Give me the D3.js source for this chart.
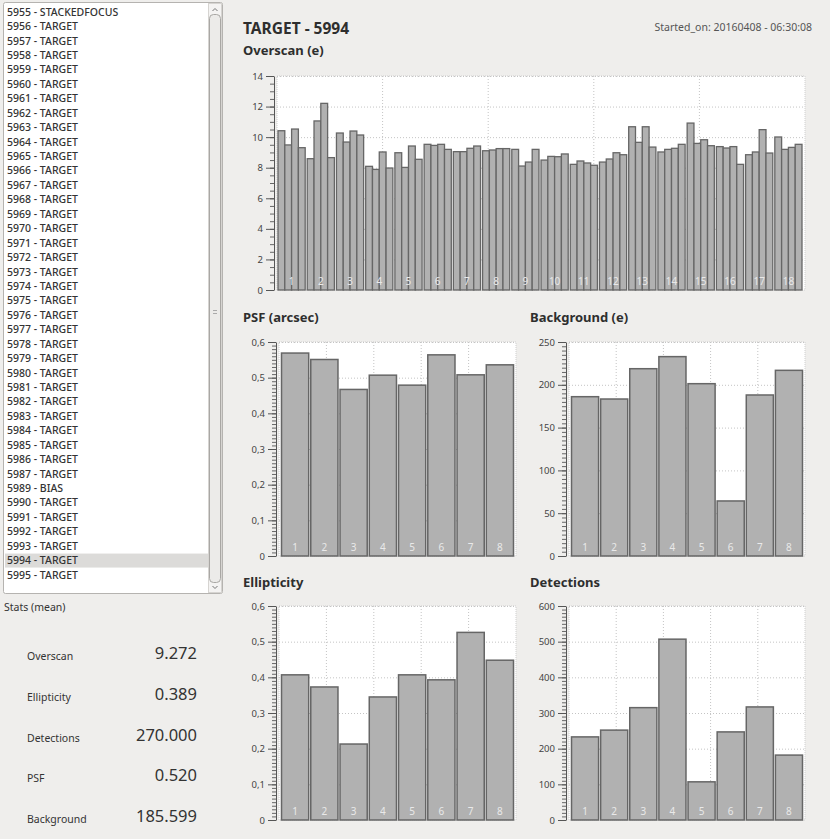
<!DOCTYPE html>
<html>
<head>
<meta charset="utf-8">
<script src="https://cdn.jsdelivr.net/npm/d3@7"></script>
<style>
  body { margin: 0; background: #efeeec; font-family: "Noto Sans", "DejaVu Sans", sans-serif; }
  svg text { font-family: "Noto Sans", "DejaVu Sans", sans-serif; }
</style>
</head>
<body>
<div id="chart"></div>
<script>
"use strict";

//
// Data
//
var listItems = [
	"5955 - STACKEDFOCUS", "5956 - TARGET", "5957 - TARGET", "5958 - TARGET", "5959 - TARGET",
	"5960 - TARGET", "5961 - TARGET", "5962 - TARGET", "5963 - TARGET", "5964 - TARGET",
	"5965 - TARGET", "5966 - TARGET", "5967 - TARGET", "5968 - TARGET", "5969 - TARGET",
	"5970 - TARGET", "5971 - TARGET", "5972 - TARGET", "5973 - TARGET", "5974 - TARGET",
	"5975 - TARGET", "5976 - TARGET", "5977 - TARGET", "5978 - TARGET", "5979 - TARGET",
	"5980 - TARGET", "5981 - TARGET", "5982 - TARGET", "5983 - TARGET", "5984 - TARGET",
	"5985 - TARGET", "5986 - TARGET", "5987 - TARGET", "5989 - BIAS", "5990 - TARGET",
	"5991 - TARGET", "5992 - TARGET", "5993 - TARGET", "5994 - TARGET", "5995 - TARGET"
];
var selectedItem = "5994 - TARGET";

var statsLabels = ["Overscan", "Ellipticity", "Detections", "PSF", "Background"];
var statsValues = ["9.272", "0.389", "270.000", "0.520", "185.599"];

var overscanGroups = ["1", "2", "3", "4", "5", "6", "7", "8", "9", "10", "11", "12", "13", "14", "15", "16", "17", "18"];
var overscanValues = [
	[10.42, 9.49, 10.53, 9.31],
	[8.59, 11.06, 12.21, 8.66],
	[10.27, 9.68, 10.40, 10.14],
	[8.09, 7.89, 9.03, 7.98],
	[8.98, 8.02, 9.42, 8.55],
	[9.53, 9.46, 9.53, 9.20],
	[9.05, 9.05, 9.27, 9.42],
	[9.11, 9.16, 9.25, 9.25],
	[9.20, 8.11, 8.37, 9.20],
	[8.50, 8.74, 8.72, 8.90],
	[8.22, 8.44, 8.31, 8.16],
	[8.37, 8.57, 8.98, 8.85],
	[10.68, 9.66, 10.68, 9.35],
	[9.03, 9.20, 9.27, 9.53],
	[10.92, 9.59, 9.83, 9.44],
	[9.38, 9.29, 9.38, 8.22],
	[8.85, 9.03, 10.49, 8.96],
	[10.01, 9.20, 9.33, 9.53]
];

var ccdLabels = ["1", "2", "3", "4", "5", "6", "7", "8"];
var psfValues = [0.569, 0.551, 0.467, 0.507, 0.479, 0.564, 0.508, 0.536];
var backgroundValues = [186.1, 183.4, 218.8, 232.9, 201.3, 64.3, 188.1, 216.9];
var ellipticityValues = [0.407, 0.373, 0.213, 0.345, 0.407, 0.393, 0.526, 0.448];
var detectionValues = [233, 252, 315, 507, 107, 247, 317, 182];

//
// Style
//
var barFill = "#b1b1b1";
var barStroke = "#666666";
var textColor = "#333333";
var gridColor = "#c4c4c4";

var commaFormat = function(f) {
	return function(d) { return d === 0 ? "0" : f(d).replace(".", ","); };
};

//
// Draw Canvas
//
var svg = d3.select("#chart")
	.append("svg")
		.attr("width", 830)
		.attr("height", 839);

//
// Left panel: list box
//
var list = svg.append("g").attr("id", "list");

list.append("rect")
	.attr("x", 3.5).attr("y", 2.5)
	.attr("width", 219).attr("height", 591)
	.attr("rx", 2)
	.attr("fill", "#ffffff")
	.attr("stroke", "#b5b3b0");

var rowY = d3.scaleLinear().domain([0, listItems.length - 1]).range([12, 575]);

list.selectAll(".sel")
	.data(listItems.filter(function(d) { return d === selectedItem; }))
  .enter().append("rect")
	.attr("x", 5).attr("width", 203)
	.attr("y", function(d) { return rowY(listItems.indexOf(d)) - 7; })
	.attr("height", 14)
	.attr("fill", "#dcdbd9");

list.selectAll(".item")
	.data(listItems)
  .enter().append("text")
	.attr("class", "item")
	.attr("x", 7)
	.attr("y", function(d, i) { return rowY(i); })
	.attr("dy", "0.35em")
	.attr("font-size", "10.5px")
	.attr("font-weight", 500)
	.attr("fill", textColor)
	.text(function(d) { return d; });

// scrollbar
list.append("rect")
	.attr("x", 208.5).attr("y", 3.5)
	.attr("width", 13).attr("height", 589)
	.attr("fill", "#f4f3f2")
	.attr("stroke", "#d6d4d1");
list.append("rect")
	.attr("x", 209.5).attr("y", 14.5)
	.attr("width", 11).attr("height", 568)
	.attr("rx", 4)
	.attr("fill", "#ecebe9")
	.attr("stroke", "#a9a7a4");
list.append("path")
	.attr("d", "M212.5,11 L215,8.5 L217.5,11")
	.attr("fill", "none").attr("stroke", "#777");
list.append("path")
	.attr("d", "M212.5,586 L215,588.5 L217.5,586")
	.attr("fill", "none").attr("stroke", "#777");
list.append("path")
	.attr("d", "M213,310.5 H217 M213,313.5 H217")
	.attr("stroke", "#aaa");

//
// Left panel: stats
//
svg.append("text")
	.attr("x", 4).attr("y", 611)
	.attr("font-size", "10.5px")
	.attr("fill", textColor)
	.text("Stats (mean)");

var statY = d3.scalePoint().domain(statsLabels).range([656, 819]);

svg.selectAll(".statLabel")
	.data(statsLabels)
  .enter().append("text")
	.attr("x", 27)
	.attr("y", function(d) { return statY(d) + 4; })
	.attr("font-size", "10.5px")
	.attr("fill", textColor)
	.text(function(d) { return d; });

svg.selectAll(".statValue")
	.data(statsValues)
  .enter().append("text")
	.attr("x", 197)
	.attr("y", function(d, i) { return statY(statsLabels[i]) + 3; })
	.attr("text-anchor", "end")
	.attr("font-size", "16.5px")
	.attr("fill", textColor)
	.text(function(d) { return d; });

//
// Header
//
svg.append("text")
	.attr("x", 243).attr("y", 34)
	.attr("font-size", "15.5px")
	.attr("font-weight", "bold")
	.attr("fill", "#2e2e2e")
	.text("TARGET - 5994");

svg.append("text")
	.attr("x", 812).attr("y", 31)
	.attr("text-anchor", "end")
	.attr("font-size", "10.5px")
	.attr("fill", "#555")
	.text("Started_on: 20160408 - 06:30:08");

var titles = [
	{ text: "Overscan (e)", x: 243, y: 55 },
	{ text: "PSF (arcsec)", x: 243, y: 322 },
	{ text: "Background (e)", x: 530, y: 322 },
	{ text: "Ellipticity", x: 243, y: 587 },
	{ text: "Detections", x: 530, y: 587 }
];
svg.selectAll(".title")
	.data(titles)
  .enter().append("text")
	.attr("x", function(d) { return d.x; })
	.attr("y", function(d) { return d.y; })
	.attr("font-size", "13px")
	.attr("font-weight", "bold")
	.attr("fill", "#2e2e2e")
	.text(function(d) { return d.text; });

//
// Generic plot frame (background, grid, y-axis)
//
function drawFrame(box, yMax, major, minor, fmt) {
	var g = svg.append("g");
	var y = d3.scaleLinear().domain([0, yMax]).range([box.y1, box.y0]);

	g.append("rect")
		.attr("x", box.x0).attr("y", box.y0)
		.attr("width", box.x1 - box.x0).attr("height", box.y1 - box.y0)
		.attr("fill", "#ffffff")
		.attr("stroke", "#cfcfcf")
		.attr("stroke-dasharray", "1,1");

	var gx = d3.scaleLinear().domain([0, 5]).range([box.x0, box.x1]);
	g.selectAll(".vgrid")
		.data(d3.range(1, 5))
	  .enter().append("line")
		.attr("x1", function(d) { return gx(d); })
		.attr("x2", function(d) { return gx(d); })
		.attr("y1", box.y0).attr("y2", box.y1)
		.attr("stroke", gridColor)
		.attr("stroke-dasharray", "1,2");

	var majors = d3.range(0, yMax + major / 2, major);
	g.selectAll(".hgrid")
		.data(majors.slice(1))
	  .enter().append("line")
		.attr("x1", box.x0).attr("x2", box.x1)
		.attr("y1", function(d) { return y(d) + 0.5; })
		.attr("y2", function(d) { return y(d) + 0.5; })
		.attr("stroke", gridColor)
		.attr("stroke-dasharray", "1,2");

	var minorAxis = d3.axisLeft(y)
		.tickValues(d3.range(0, yMax + minor / 2, minor))
		.tickSize(4)
		.tickSizeOuter(0)
		.tickFormat("");
	g.append("g")
		.attr("transform", "translate(" + (box.x0 - 3) + ",0)")
		.call(minorAxis)
		.call(function(a) {
			a.selectAll("line").attr("stroke", "#666");
			a.select(".domain").attr("stroke", "#555");
		});

	var majorAxis = d3.axisLeft(y)
		.tickValues(majors)
		.tickSize(8)
		.tickPadding(3)
		.tickSizeOuter(0)
		.tickFormat(fmt);
	g.append("g")
		.attr("transform", "translate(" + (box.x0 - 3) + ",0)")
		.call(majorAxis)
		.call(function(a) {
			a.select(".domain").remove();
			a.selectAll("line").attr("stroke", "#555");
			a.selectAll("text")
				.attr("font-size", "9.5px")
				.attr("fill", "#444");
		});

	return { g: g, y: y };
}

function drawBars(box, values, labels, yMax, major, minor, fmt) {
	var f = drawFrame(box, yMax, major, minor, fmt);
	var x = d3.scaleBand()
		.domain(labels)
		.range([box.x0 + 2.5, box.x1 - 2.5])
		.paddingInner(0.07);

	f.g.selectAll(".bar")
		.data(values)
	  .enter().append("rect")
		.attr("class", "bar")
		.attr("x", function(d, i) { return x(labels[i]); })
		.attr("width", x.bandwidth())
		.attr("y", function(d) { return f.y(d); })
		.attr("height", function(d) { return f.y(0) - f.y(d); })
		.attr("fill", barFill)
		.attr("stroke", barStroke)
		.attr("stroke-width", 1.5);

	f.g.selectAll(".barLabel")
		.data(labels)
	  .enter().append("text")
		.attr("x", function(d) { return x(d) + x.bandwidth() / 2; })
		.attr("y", box.y1 - 5)
		.attr("text-anchor", "middle")
		.attr("font-size", "10px")
		.attr("fill", "#e9e9e9")
		.text(function(d) { return d; });
}

//
// Overscan (grouped by CCD, 4 amplifiers each)
//
(function() {
	var box = { x0: 277, x1: 805, y0: 76, y1: 290 };
	var f = drawFrame(box, 14, 2, 0.5, d3.format("d"));
	var x = d3.scaleBand()
		.domain(overscanGroups)
		.range([box.x0 + 1, box.x1 - 3])
		.paddingInner(0.07);
	var xa = d3.scaleBand()
		.domain(d3.range(4))
		.range([0, x.bandwidth()]);

	var groups = f.g.selectAll(".grp")
		.data(overscanValues)
	  .enter().append("g")
		.attr("transform", function(d, i) { return "translate(" + x(overscanGroups[i]) + ",0)"; });

	groups.selectAll("rect")
		.data(function(d) { return d; })
	  .enter().append("rect")
		.attr("x", function(d, i) { return xa(i); })
		.attr("width", xa.bandwidth())
		.attr("y", function(d) { return f.y(d); })
		.attr("height", function(d) { return f.y(0) - f.y(d); })
		.attr("fill", barFill)
		.attr("stroke", barStroke)
		.attr("stroke-width", 1.3);

	f.g.selectAll(".grpLabel")
		.data(overscanGroups)
	  .enter().append("text")
		.attr("x", function(d) { return x(d) + x.bandwidth() / 2; })
		.attr("y", box.y1 - 5)
		.attr("text-anchor", "middle")
		.attr("font-size", "10px")
		.attr("fill", "#e9e9e9")
		.text(function(d) { return d; });
})();

//
// Per-CCD charts
//
drawBars({ x0: 279, x1: 516, y0: 342, y1: 556 }, psfValues, ccdLabels, 0.6, 0.1, 0.01, commaFormat(d3.format(".1f")));
drawBars({ x0: 569, x1: 805, y0: 342, y1: 556 }, backgroundValues, ccdLabels, 250, 50, 5, d3.format("d"));
drawBars({ x0: 279, x1: 516, y0: 606, y1: 820 }, ellipticityValues, ccdLabels, 0.6, 0.1, 0.01, commaFormat(d3.format(".1f")));
drawBars({ x0: 569, x1: 805, y0: 606, y1: 820 }, detectionValues, ccdLabels, 600, 100, 10, d3.format("d"));
</script>
</body>
</html>
